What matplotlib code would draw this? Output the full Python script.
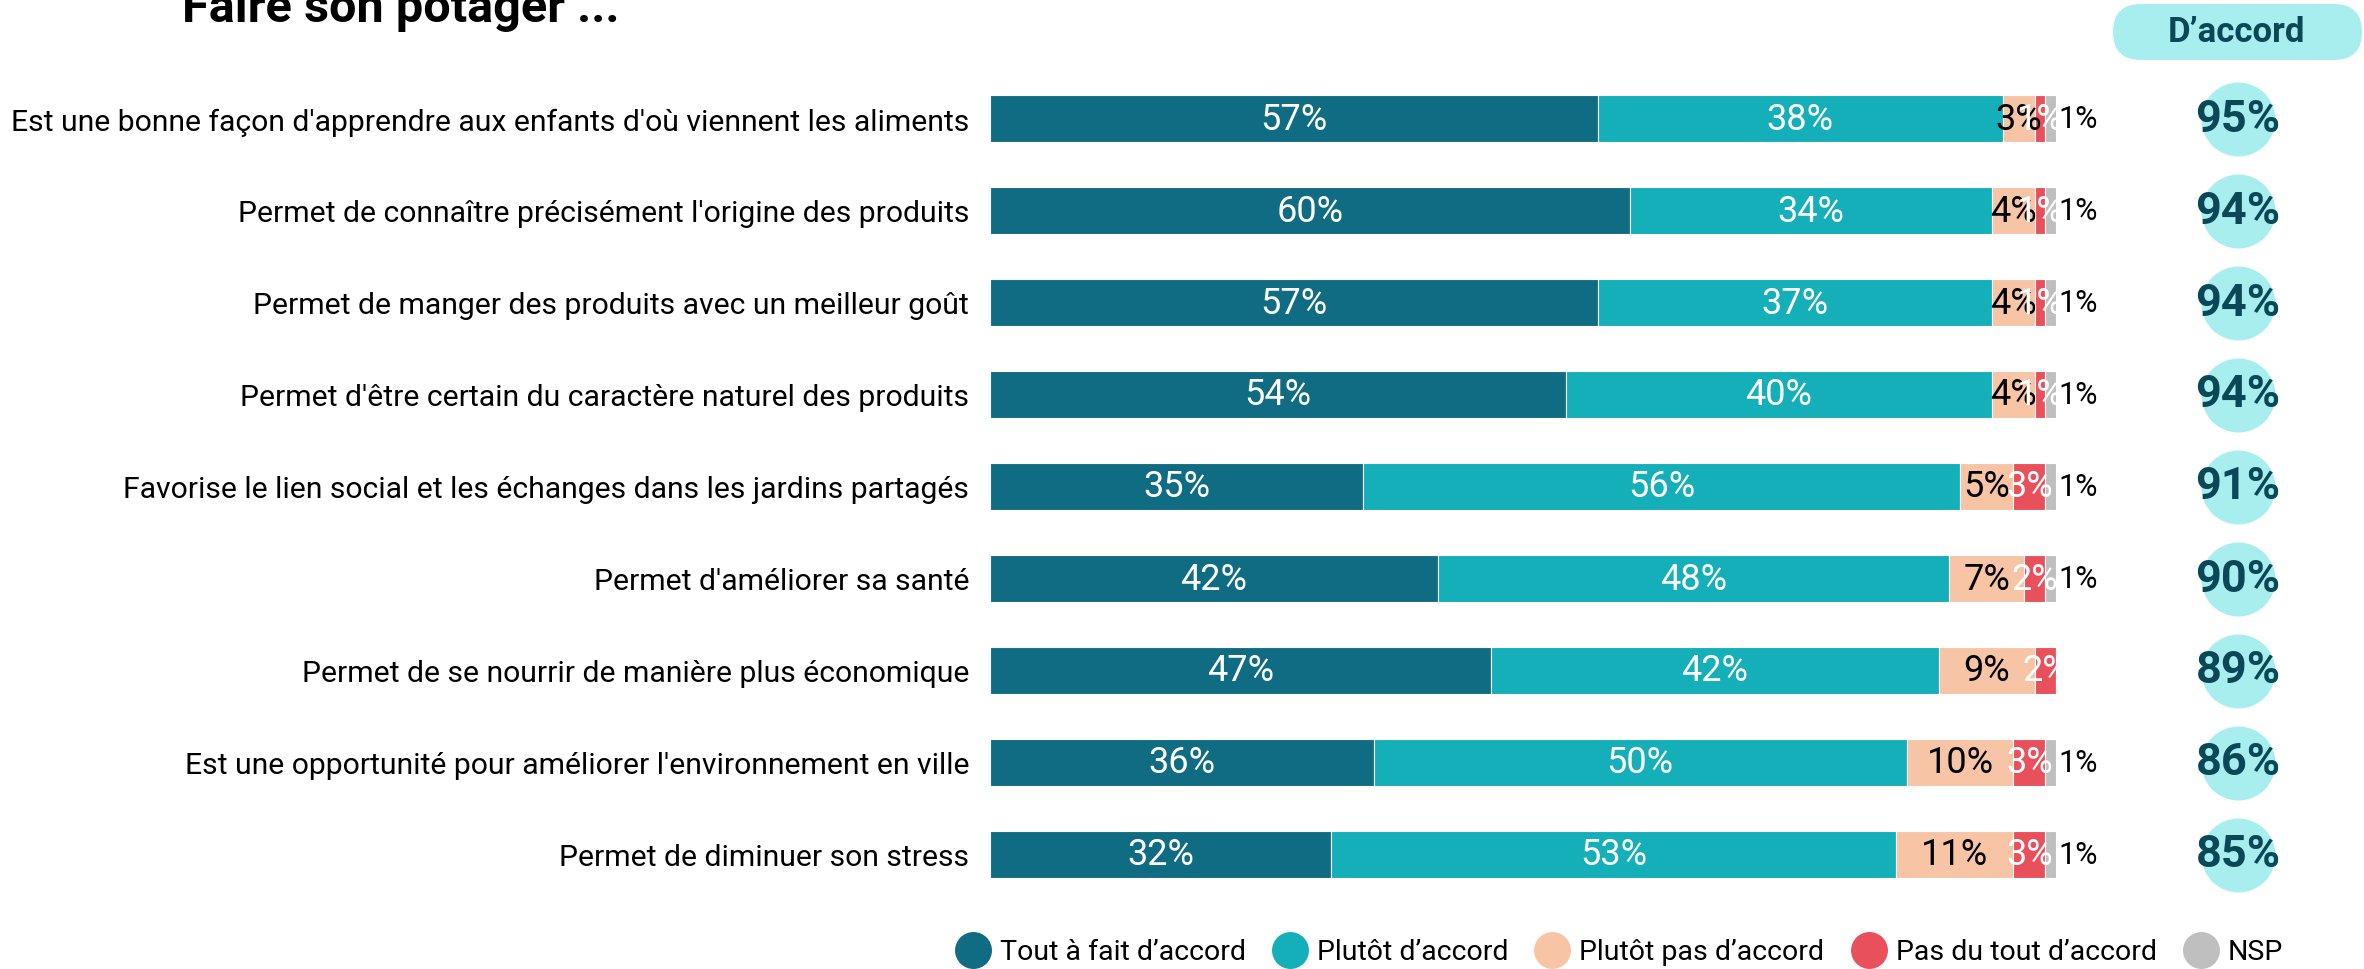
import matplotlib
matplotlib.use("Agg")
import matplotlib.pyplot as plt
from matplotlib.lines import Line2D
from matplotlib.patches import FancyBboxPatch
import numpy as np

plt.rcParams['font.family'] = ['Roboto', 'DejaVu Sans']

# données
questions = [
    "Est une bonne façon d'apprendre aux enfants d'où viennent les aliments",
    "Permet de connaître précisément l'origine des produits",
    "Permet de manger des produits avec un meilleur goût",
    "Permet d'être certain du caractère naturel des produits",
    "Favorise le lien social et les échanges dans les jardins partagés",
    "Permet d'améliorer sa santé",
    "Permet de se nourrir de manière plus économique",
    "Est une opportunité pour améliorer l'environnement en ville",
    "Permet de diminuer son stress",
]
tout_a_fait = [57, 60, 57, 54, 35, 42, 47, 36, 32]
plutot = [38, 34, 37, 40, 56, 48, 42, 50, 53]
plutot_pas = [3, 4, 4, 4, 5, 7, 9, 10, 11]
pas_du_tout = [1, 1, 1, 1, 3, 2, 2, 3, 3]
nsp = [1, 1, 1, 1, 1, 1, 0, 1, 1]
d_accord = [95, 94, 94, 94, 91, 90, 89, 86, 85]

categories = ["Tout à fait d’accord", "Plutôt d’accord", "Plutôt pas d’accord",
              "Pas du tout d’accord", "NSP"]
couleurs = ["#0F6C82", "#14AFB8", "#F7C4A5", "#E8515B", "#BFBFBF"]
couleurs_txt = ["white", "white", "black", "white", "black"]

series = [tout_a_fait, plutot, plutot_pas, pas_du_tout, nsp]

W, H = 2364, 970
fig = plt.figure(figsize=(W / 100, H / 100), dpi=100)

ax_bottom = 1 - 901.5 / H
ax_height = 828 / H
ax = fig.add_axes([990 / W, ax_bottom, 1066 / W, ax_height])

y = np.arange(len(questions))
left = np.zeros(len(questions))
for serie, coul, ctxt, nom in zip(series, couleurs, couleurs_txt, categories):
    vals = np.array(serie, dtype=float)
    ax.barh(y, vals, left=left, height=0.51, color=coul, edgecolor='white',
            linewidth=0.8, label=nom)
    for i, v in enumerate(vals):
        if v <= 0:
            continue
        if nom == "NSP":
            ax.text(left[i] + v + 0.2, i, f"{int(v)}%", ha='left', va='center',
                    color=ctxt, fontsize=22)
        else:
            ax.text(left[i] + v / 2, i, f"{int(v)}%", ha='center', va='center',
                    color=ctxt, fontsize=26)
    left += vals

ax.set_xlim(0, 100)
ax.set_ylim(len(questions) - 0.5, -0.5)
ax.set_yticks(y)
ax.set_yticklabels(questions, fontsize=21.7)
ax.tick_params(axis='y', length=0, pad=15)
ax.set_xticks([])
for s in ax.spines.values():
    s.set_visible(False)

# colonne D'accord
ax2 = fig.add_axes([2188 / W, ax_bottom, 100 / W, ax_height], sharey=ax)
ax2.scatter(np.full(len(d_accord), 0.5), y, s=2840, color="#A9EEEE", linewidths=0)
for i, v in enumerate(d_accord):
    ax2.text(0.5, i, f"{v}%", ha='center', va='center', color="#0B4857",
             fontsize=32.5, fontweight='bold')
ax2.set_xlim(0, 1)
ax2.axis('off')

pill = FancyBboxPatch((21.13, 9.09), 2.49, 0.56,
                      boxstyle="round,pad=0,rounding_size=0.28",
                      transform=fig.dpi_scale_trans, fc="#A9EEEE", ec='none')
fig.patches.append(pill)
fig.text(2237 / W, 1 - 33 / H, "D’accord", ha='center', va='center',
         color="#0B4857", fontsize=25, fontweight='bold')

# titre
fig.text(182 / W, 1 - 22 / H, "Faire son potager ...", ha='left', va='baseline',
         fontsize=35, fontweight='bold')

# légende
handles = [Line2D([], [], marker='o', linestyle='', markersize=26.6,
                  markerfacecolor=c, markeredgecolor='none') for c in couleurs]
fig.legend(handles, categories, loc='center left',
           bbox_to_anchor=(954 / W, 1 - 953 / H), ncol=5, frameon=False,
           fontsize=20.5, handlelength=1.3, handletextpad=0.3,
           columnspacing=0.9, borderpad=0, borderaxespad=0)

fig.savefig("out.png", dpi=100)
